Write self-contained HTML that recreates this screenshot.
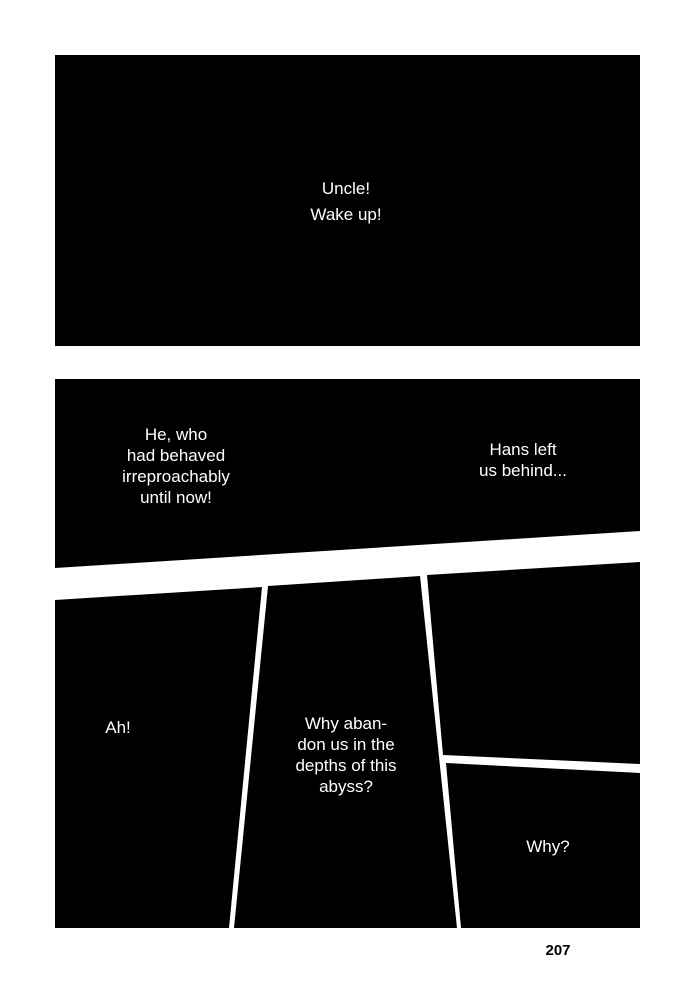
<!DOCTYPE html><html><head><style>
body{margin:0;background:#fff;}
svg text{font-family:"Liberation Sans",sans-serif;fill:#fff;font-size:17px;text-anchor:middle;}
</style></head><body>
<svg width="700" height="996" viewBox="0 0 700 996" xmlns="http://www.w3.org/2000/svg">
<rect width="700" height="996" fill="#fff"/>
<rect x="55" y="55" width="585" height="291" fill="#000"/>
<polygon points="55,379 640,379 640,531 55,568" fill="#000"/>
<polygon points="55,600 262,587 229,928 55,928" fill="#000"/>
<polygon points="268,586 420,576 457,928 234,928" fill="#000"/>
<polygon points="427,575 640,562 640,764 443,755" fill="#000"/>
<polygon points="446,763 640,773 640,928 461,928" fill="#000"/>
<text x="346" y="194">Uncle!</text>
<text x="346" y="220">Wake up!</text>
<text x="176" y="440">He, who</text>
<text x="176" y="461">had behaved</text>
<text x="176" y="482">irreproachably</text>
<text x="176" y="503">until now!</text>
<text x="523" y="455">Hans left</text>
<text x="523" y="476">us behind...</text>
<text x="118" y="733">Ah!</text>
<text x="346" y="729">Why aban-</text>
<text x="346" y="750">don us in the</text>
<text x="346" y="771">depths of this</text>
<text x="346" y="792">abyss?</text>
<text x="548" y="852">Why?</text>
<text x="558" y="955" style="fill:#000;font-size:15px;font-weight:bold">207</text>
</svg>
</body></html>
